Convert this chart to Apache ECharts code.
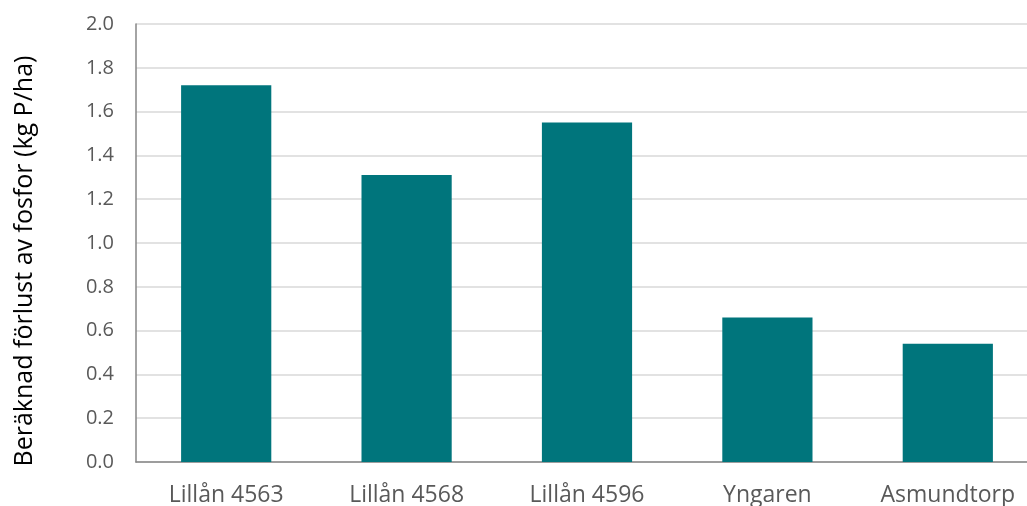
<!DOCTYPE html>
<html><head><meta charset="utf-8">
<script src="https://cdn.jsdelivr.net/npm/echarts@6/dist/echarts.min.js"></script>
<style>html,body{margin:0;padding:0;background:#fff}#c{width:1027px;height:506px}</style>
</head><body><div id="c"></div>
<script>
const categories = ["Lillån 4563", "Lillån 4568", "Lillån 4596", "Yngaren", "Asmundtorp"];
const values = [1.72, 1.31, 1.55, 0.66, 0.54];
const yAxisTitle = "Beräknad förlust av fosfor (kg P/ha)";

const chart = echarts.init(document.getElementById('c'), null, {renderer: 'canvas'});
chart.setOption({
  animation: false,
  backgroundColor: '#fff',
  grid: {left: 136, width: 902, top: 24, height: 438, containLabel: false, outerBoundsMode: 'none'},
  xAxis: {
    type: 'category', data: categories,
    axisLine: {lineStyle: {color: '#868686', width: 1.5}},
    axisTick: {show: false},
    axisLabel: {color: '#595959', fontFamily: 'Open Sans', fontSize: 23, margin: 22}
  },
  yAxis: {
    type: 'value', min: 0, max: 2, interval: 0.2,
    name: yAxisTitle, nameLocation: 'middle', nameGap: 99,
    nameTextStyle: {color: '#000', fontFamily: 'Open Sans', fontSize: 25, padding: [0, 36, 0, 0]},
    axisLine: {show: true, lineStyle: {color: '#868686', width: 1.5}},
    axisTick: {show: false},
    splitLine: {lineStyle: {color: '#d9d9d9', width: 1.5}},
    axisLabel: {color: '#595959', fontFamily: 'Open Sans', fontSize: 20, margin: 22,
      formatter: v => v.toFixed(1)}
  },
  series: [{
    type: 'bar', data: values, barWidth: '50%',
    itemStyle: {color: '#00757C'}
  }]
});
</script></body></html>
